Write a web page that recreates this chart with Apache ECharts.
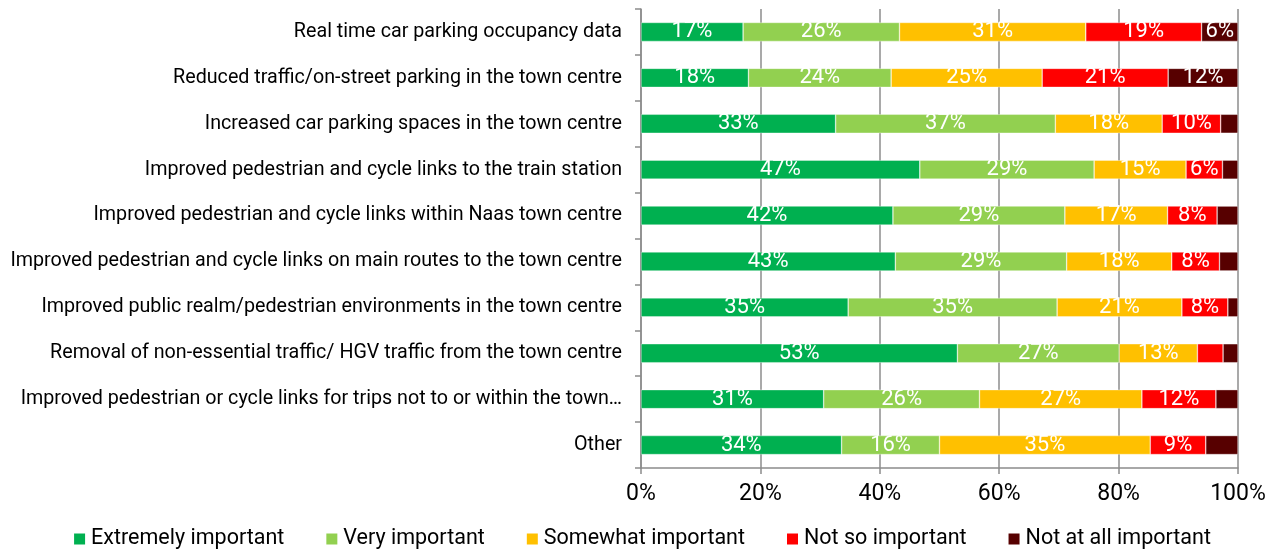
<!DOCTYPE html>
<html>
<head>
<meta charset="utf-8">
<script src="https://cdn.jsdelivr.net/npm/echarts@6/dist/echarts.min.js"></script>
<style>
html,body{margin:0;padding:0;background:#fff;}
#chart{width:1285px;height:549px;}
</style>
</head>
<body>
<div id="chart"></div>
<script>
const categories = [
  "Real time car parking occupancy data",
  "Reduced traffic/on-street parking in the town centre",
  "Increased car parking spaces in the town centre",
  "Improved pedestrian and cycle links to the train station",
  "Improved pedestrian and cycle links within Naas town centre",
  "Improved pedestrian and cycle links on main routes to the town centre",
  "Improved public realm/pedestrian environments in the town centre",
  "Removal of non-essential traffic/ HGV traffic from the town centre",
  "Improved pedestrian or cycle links for trips not to or within the town\u2026",
  "Other"
];
const extremelyImportant = [17.1, 18.0, 32.6, 46.7, 42.2, 42.6, 34.7, 53.0, 30.6, 33.6];
const veryImportant      = [26.2, 23.9, 36.8, 29.2, 28.8, 28.7, 35.0, 27.1, 26.1, 16.4];
const somewhatImportant  = [31.2, 25.3, 17.9, 15.4, 17.2, 17.6, 20.9, 13.1, 27.2, 35.3];
const notSoImportant     = [19.4, 21.1,  9.8,  6.1,  8.3,  8.0,  7.7,  4.3, 12.4,  9.3];
const notAtAllImportant  = [ 6.1, 11.7,  2.9,  2.6,  3.5,  3.1,  1.7,  2.5,  3.7,  5.4];
const xTicks = [0, 20, 40, 60, 80, 100];

const seriesDefs = [
  {name: "Extremely important", data: extremelyImportant, color: "#00B050"},
  {name: "Very important", data: veryImportant, color: "#92D050"},
  {name: "Somewhat important", data: somewhatImportant, color: "#FFC000"},
  {name: "Not so important", data: notSoImportant, color: "#FF0000"},
  {name: "Not at all important", data: notAtAllImportant, color: "#570000"}
];

const FONT = "Roboto";
const chart = echarts.init(document.getElementById('chart'), null, {renderer: 'canvas'});
chart.setOption({
  animation: false,
  textStyle: {fontFamily: FONT},
  grid: {left: 641, right: 47, top: 9, bottom: 81, containLabel: false},
  legend: {
    top: 523,
    left: 'center',
    itemWidth: 11,
    itemHeight: 11,
    itemGap: 42,
    icon: 'rect',
    itemStyle: {borderWidth: 0},
    textStyle: {fontSize: 21.5, color: '#000', fontFamily: FONT, padding: [0,0,0,1]},
    data: seriesDefs.map(s => s.name)
  },
  xAxis: {
    type: 'value',
    min: xTicks[0],
    max: xTicks[xTicks.length - 1],
    interval: 20,
    axisLine: {show: true, lineStyle: {color: '#8c8c8c', width: 1.5}},
    axisTick: {show: true, length: 6, lineStyle: {color: '#8c8c8c', width: 1.5}},
    splitLine: {show: true, lineStyle: {color: '#8c8c8c', width: 1.5}},
    axisLabel: {fontSize: 23, color: '#000', margin: 15, formatter: v => v + '%'}
  },
  yAxis: {
    type: 'category',
    inverse: true,
    data: categories,
    axisLine: {show: true, lineStyle: {color: '#8c8c8c', width: 1.5}},
    axisTick: {show: true, length: 6, lineStyle: {color: '#8c8c8c', width: 1.5}},
    splitLine: {show: false},
    axisLabel: {fontSize: 19.7, color: '#000', margin: 19}
  },
  series: seriesDefs.map(s => ({
    name: s.name,
    type: 'bar',
    stack: 'total',
    barWidth: 19,
    data: s.data,
    itemStyle: {color: s.color, borderColor: 'rgba(255,255,255,0.6)', borderWidth: 0.6},
    label: {
      show: true,
      position: 'inside',
      color: '#fff',
      fontSize: 22,
      fontFamily: FONT,
      formatter: p => (p.value >= 5.8 ? Math.round(p.value) + '%' : '')
    }
  }))
});
</script>
</body>
</html>
